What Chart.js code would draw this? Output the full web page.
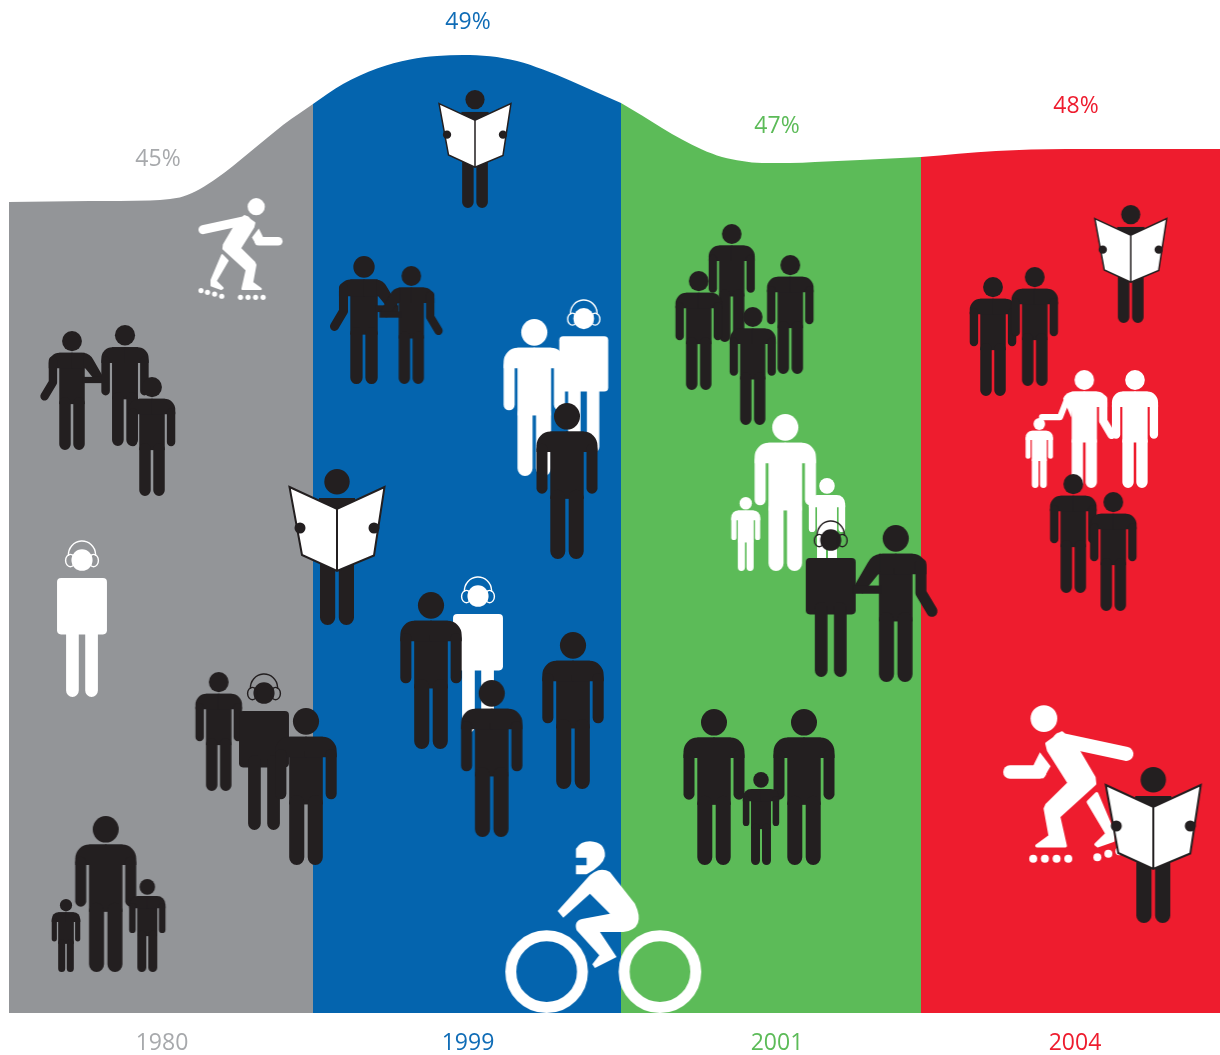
<!DOCTYPE html>
<html><head><meta charset="utf-8">
<style>html,body{margin:0;padding:0;background:#fff}canvas{display:block}</style>
<script src="https://cdn.jsdelivr.net/npm/chart.js@4/dist/chart.umd.min.js"></script>
</head><body><canvas id="c" width="1220" height="1055"></canvas>
<script>
// Categories and labels
const years = ['1980','1999','2001','2004'];
const yearX = [162,468,777,1075];
const percents = ['45%','49%','47%','48%'];
const percentX = [158,468,777,1076];
const percentH = [854,991,887,907];
const bandColors = ['#939598','#0464ae','#5cbb58','#ee1c2e'];
const textColors = ['#a7a9ac','#0f6cb6','#5cbb58','#ee1c2e'];
const INK = '#231f20', WHITE = '#ffffff';

// Curve (x, height above the baseline)
const grayX = [9,90,150,170,183,200,217,233,250,267,283,300,313];
const grayH = [811,812,812.5,814,816.5,824,835,847,861,875,888,900,909];
const blueX = [313,343,377,410,437,463,490,517,543,570,597,621];
const blueH = [909,929,944.5,953.5,957,958,956.7,952,943.5,932.5,920.5,910];
const greenX = [621,642,662,682,702,722,742,762,790,815,860,921];
const greenH = [910,897.5,885,873.5,863.5,856,852,850,850,851,853,856];
const redX = [921,996,1066,1140,1220];
const redH = [856,862,864,864,864];

// Pictograms, back to front
const iconKind = [
 'skate-flip','man:out:hold','man:down:down','man:down:down','walk','man:down:down','walk','man:down:down','man:down:down','man:down:down','man:down:down',
 'read','man:out:hold','man:hold:out','man:down:down','walk','man:down:down','read','walk','man:down:down','man:down:down','man:down:down','cycle',
 'man:down:down','man:down:down','man:down:down','man:down:down','man:down:down','man:down:down','man:down:down','walk','man:hold:out','man:down:down','man:down:down','man:down:down',
 'read','man:down:down','man:down:down','man:point:out','man:down:down','man:down:down','man:down:down','man:down:down','skate','read'];
const iconColor = [
 WHITE,INK,INK,INK,WHITE,INK,INK,INK,INK,INK,INK,
 INK,INK,INK,WHITE,WHITE,INK,INK,WHITE,INK,INK,INK,WHITE,
 INK,INK,INK,INK,WHITE,WHITE,WHITE,INK,INK,INK,INK,INK,
 INK,INK,INK,WHITE,WHITE,WHITE,INK,INK,WHITE,INK];
const iconX = [
 240.5,72,125,152,82,218.7,264,306,105.7,66,147.3,
 475,364,411.3,534.3,583.7,567,337,478,431,491.7,573,603.3,
 731.7,698.7,790.3,752.7,785.3,745.7,827,830.7,895.7,714,804,761,
 1130.7,993,1034.7,1084.3,1135,1039.3,1073.3,1113.3,1068.3,1153.3];
const iconBase = [
 713,563,567,517,316,222,183,148,41,41,41,
 805,629,629,537,560,454,388,280,264,176,224,0,
 671,623,639,588,442,442,442,336,331,148,148,148,
 690,617,627,525,525,525,420,402,150,90];
const iconHeight = [
 102,119,121,119,157,119,157,157,156,73,93,
 118,128,118,157,154,156,156,157,157,157,157,172,
 118,119,119,118,157,74,93,157,157,156,156,93,
 118,119,119,118,118,70,119,119,158,156];

function man(c, left, right){
  c.beginPath(); c.arc(0,13,13,0,Math.PI*2); c.fill();
  c.fillRect(-16.7,28,33.4,66);
  c.beginPath(); c.roundRect(-16.7,85,15,68,7.5); c.roundRect(1.7,85,15,68,7.5); c.fill();
  c.lineCap='round'; c.lineJoin='round';
  [[-1,left],[1,right]].forEach(([side,type])=>{
    c.save(); c.scale(side,1);
    const bent = type==='hold'||type==='point';
    c.beginPath(); c.roundRect(-1,28,bent?20:31.5,20,[0,bent?6:14,0,0]); c.fill();
    if(type==='down'){ c.beginPath(); c.roundRect(19.5,40,11,49,5.5); c.fill(); }
    if(type==='out'){ c.lineWidth=11; c.beginPath(); c.moveTo(25,38); c.lineTo(25,66); c.lineTo(36,84); c.stroke(); }
    if(type==='hold'){
      c.beginPath(); c.moveTo(15,28); c.quadraticCurveTo(24,29,28,37); c.lineTo(41,59); c.lineTo(33,67); c.lineTo(15,45); c.closePath(); c.fill();
      c.lineCap='butt'; c.lineWidth=8; c.beginPath(); c.moveTo(14,63); c.lineTo(42,63); c.stroke();
    }
    if(type==='point'){
      c.beginPath(); c.moveTo(15,28); c.quadraticCurveTo(24,29,28,37); c.lineTo(17,62); c.lineTo(15,45); c.closePath(); c.fill();
      c.lineWidth=8; c.beginPath(); c.moveTo(22,36); c.lineTo(32,61); c.lineTo(56,61); c.stroke();
    }
    c.restore();
  });
}
function walk(c){
  c.beginPath(); c.ellipse(0,19.5,10.5,10.5,0,0,Math.PI*2); c.fill();
  c.lineWidth=1.4; c.beginPath(); c.arc(0,14.5,13.5,Math.PI*0.98,Math.PI*2.02); c.stroke();
  [-11.5,11.5].forEach(x=>{c.beginPath(); c.ellipse(x,20,4.8,6,0,0,Math.PI*2); c.stroke();});
  c.beginPath(); c.roundRect(-24.8,37,49.6,55,4); c.fill();
  c.beginPath(); c.roundRect(-15.8,80,12.6,73,6.3); c.roundRect(3.2,80,12.6,73,6.3); c.fill();
}
function read(c){
  c.fillStyle=INK; c.strokeStyle=INK;
  c.beginPath(); c.arc(0,12.7,12.7,0,Math.PI*2); c.fill();
  c.fillRect(-18,29,36,14);
  c.beginPath(); c.roundRect(-17,85,15.2,71,7.6); c.roundRect(1.8,85,15.2,71,7.6); c.fill();
  c.fillStyle='#fff'; c.lineWidth=2; c.lineJoin='miter';
  c.beginPath(); c.moveTo(-47.5,18); c.lineTo(0,40); c.lineTo(47.5,18); c.lineTo(37,86.5); c.lineTo(0,102); c.lineTo(-35,86); c.closePath(); c.fill(); c.stroke();
  c.beginPath(); c.moveTo(0,40); c.lineTo(0,102); c.stroke();
  c.fillStyle=INK;
  [-37,37].forEach(x=>{c.beginPath(); c.arc(x,59,5.5,0,Math.PI*2); c.fill();});
}
function poly(c,p){ c.beginPath(); p.forEach((q,i)=>i?c.lineTo(q[0],q[1]):c.moveTo(q[0],q[1])); c.closePath(); c.fill(); }
function skate(c){
  c.strokeStyle=c.fillStyle; c.lineJoin='round'; c.lineCap='round';
  c.beginPath(); c.arc(162,85,40,0,Math.PI*2); c.fill();
  c.lineWidth=42; c.beginPath(); c.moveTo(210,148); c.lineTo(409,191); c.stroke();
  c.lineWidth=40; c.beginPath(); c.moveTo(60,245); c.lineTo(150,245); c.stroke();
  poly(c,[[150,186],[182,228],[160,265],[130,226]]);
  c.lineWidth=10;
  [[[216,128],[264,180],[312,262],[314,280],[206,378],[226,466],[141,466],[181,437],[166,355],[171,344],[238,278],[176,180],[171,160]],
   [[295,335],[320,310],[369,425],[369,450],[324,466],[318,462],[351,430]]].forEach(p=>{ poly(c,p); c.stroke(); });
  [[130,505],[165,505],[200,505],[235,505],[322,500],[355,490],[388,482],[418,474]].forEach(w=>{c.beginPath(); c.arc(w[0],w[1],12,0,Math.PI*2); c.fill();});
}
function cycle(c){
  c.strokeStyle=c.fillStyle; c.lineWidth=33;
  [470,810].forEach(x=>{c.beginPath(); c.arc(x,1204,107.5,0,Math.PI*2); c.stroke();});
  c.lineJoin='round';
  c.beginPath(); c.moveTo(503,1022); c.lineTo(590,925); c.quadraticCurveTo(625,885,660,905); c.lineTo(735,1000); c.quadraticCurveTo(770,1075,700,1085); c.lineTo(630,1085); c.lineTo(680,1160); c.lineTo(615,1193); c.lineTo(607,1182); c.lineTo(628,1155); c.lineTo(560,1080); c.quadraticCurveTo(550,1050,580,1045); c.lineTo(660,1030); c.lineTo(600,970); c.lineTo(520,1042); c.closePath(); c.fill();
  c.beginPath(); c.moveTo(558,912); c.lineTo(558,885); c.lineTo(590,885); c.lineTo(590,862); c.lineTo(558,862); c.lineTo(558,835); c.quadraticCurveTo(572,813,600,813); c.quadraticCurveTo(647,815,645,858); c.quadraticCurveTo(640,885,590,912); c.closePath(); c.fill();
}
const cache = {};
function iconCanvas(i){
  const kind=iconKind[i], col=iconColor[i], H=iconHeight[i];
  const key=kind+col+H; if(cache[key]) return cache[key];
  const cv=document.createElement('canvas'); const c=cv.getContext('2d');
  if(kind==='skate'||kind==='skate-flip'){
    const s=H/473; cv.width=Math.ceil(410*s/2)*2; cv.height=H+4;
    c.fillStyle=col; c.translate(cv.width/2,cv.height/2);
    if(kind==='skate-flip') c.scale(-1,1);
    c.scale(s,s); c.translate(-235,-281); skate(c);
  } else if(kind==='cycle'){
    const s=1/3; cv.width=Math.ceil(640*s/2)*2; cv.height=H+4;
    c.fillStyle=col; c.translate(cv.width/2,cv.height/2); c.scale(s,s); c.translate(-640,-1070); cycle(c);
  } else {
    const s=H/156; cv.width=Math.ceil(160*s/2)*2; cv.height=H+6;
    c.translate(cv.width/2,3); c.fillStyle=col; c.strokeStyle=col;
    if(kind==='walk'){ c.scale(s,H/153); walk(c); }
    else if(kind==='read'){ c.scale(s,s); read(c); }
    else { const p=kind.split(':'); c.scale(s,H/153); man(c,p[1],p[2]); }
  }
  return cache[key]=cv;
}
const zip=(xs,ys)=>xs.map((x,i)=>({x,y:ys[i]}));
const band=(xs,ys,col)=>({type:'line',data:zip(xs,ys),backgroundColor:col,borderWidth:0,pointRadius:0,fill:'origin',cubicInterpolationMode:'monotone',order:5});
const percentPlugin={id:'percentLabels',afterDatasetsDraw(chart){
  const {ctx,scales:{x,y}}=chart; ctx.save(); ctx.font='23px "Open Sans"'; ctx.textAlign='center'; ctx.textBaseline='middle';
  percents.forEach((t,i)=>{ctx.fillStyle=textColors[i]; ctx.fillText(t,x.getPixelForValue(percentX[i]),y.getPixelForValue(percentH[i]));});
  ctx.restore();
}};
new Chart(document.getElementById('c'),{
  type:'line',
  data:{datasets:[
    {type:'scatter',data:iconX.map((x,i)=>({x,y:iconBase[i]+iconHeight[i]/2})),showLine:false,clip:false,order:1,
     pointStyle:ctx=>iconCanvas(ctx.dataIndex),pointRadius:5,borderWidth:0},
    band(grayX,grayH,bandColors[0]),band(blueX,blueH,bandColors[1]),band(greenX,greenH,bandColors[2]),band(redX,redH,bandColors[3])
  ]},
  options:{responsive:false,animation:false,events:[],layout:{padding:0,autoPadding:false},
    plugins:{legend:{display:false},tooltip:{enabled:false},title:{display:false}},
    scales:{
      x:{type:'linear',min:0,max:1220,border:{display:false},grid:{display:false,drawTicks:false},
        afterBuildTicks:a=>{a.ticks=yearX.map(v=>({value:v}));},
        afterFit:a=>{a.height=42;},
        ticks:{autoSkip:false,maxRotation:0,padding:17,font:{family:'"Open Sans"',size:23},
          callback:(v,i)=>years[i],color:ctx=>textColors[ctx.index]}},
      y:{display:false,min:0,max:1013}
    }},
  plugins:[percentPlugin]
});
</script></body></html>
